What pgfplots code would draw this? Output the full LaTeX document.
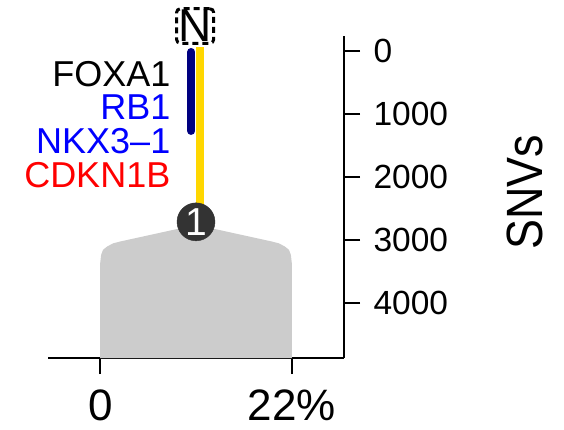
\documentclass[border=0pt]{standalone}
\usepackage{fontspec}
\setmainfont{Liberation Sans}
\usepackage{pgfplots}
\pgfplotsset{compat=1.18}
\definecolor{shapec}{RGB}{204,204,204}
\definecolor{navyc}{RGB}{0,0,128}
\definecolor{goldc}{RGB}{255,215,0}
\definecolor{nodec}{RGB}{51,51,51}
\begin{document}
\begin{tikzpicture}[x=1pt,y=1pt]
\path[use as bounding box] (0,0) rectangle (564,-430);
\begin{axis}[
 at={(48pt,-358pt)}, anchor=south west,
 scale only axis, width=296pt, height=321.5pt,
 xmin=-6, xmax=28, ymin=-230, ymax=4880,
 y dir=reverse,
 axis x line=bottom, axis y line=right,
 axis line style={-, line width=2.7pt, black},
 tick align=outside, major tick length=16pt,
 tick style={line width=2pt, black},
 xtick={0,22}, xticklabels={0,22\%},
 ytick={0,1000,2000,3000,4000},
 yticklabels={0,1000,2000,3000,4000},
 yticklabel style={font=\fontsize{33.5}{40}\selectfont, xshift=10pt},
 xticklabel style={font=\fontsize{44}{48}\selectfont, inner sep=1pt, yshift=-15pt},
 clip=false,
]
\addplot[fill=shapec, draw=none] coordinates {
 (0,4880) (0,3368) (0.1,3241) (0.32,3161) (0.78,3109) (1.47,3058) (2.27,3029)
 (11,2764)
 (19.73,3029) (20.53,3058) (21.22,3109) (21.68,3161) (21.9,3241) (22,3368) (22,4880)
} -- cycle;
\addplot[goldc, line width=8pt] coordinates {(11.43,-64) (11.43,2600)};
\addplot[navyc, line width=8pt, line cap=round] coordinates {(10.46,16) (10.46,1271)};
\addplot[only marks, mark=*, mark size=19pt,
 mark options={fill=nodec, draw=nodec},
 nodes near coords, point meta=explicit symbolic,
 every node near coord/.style={anchor=center, text=white, font=\fontsize{39}{40}\selectfont}]
 coordinates {(11,2716) [1]};
\node[draw=black, line width=3pt, dash pattern=on 6pt off 4pt, rounded corners=4pt,
 inner xsep=2pt, inner ysep=1.5pt, font=\fontsize{46}{46}\selectfont]
 at (axis cs:10.9,-397) {N};
\end{axis}
\begin{scope}[every node/.style={anchor=base east, inner sep=0.5pt, font=\fontsize{36}{40}\selectfont}]
\node[text=black] at (171,-87) {FOXA1};
\node[text={rgb,255:red,0;green,0;blue,255}] at (171,-120) {RB1};
\node[text={rgb,255:red,0;green,0;blue,255}] at (171,-153.5) {NKX3–1};
\node[text={rgb,255:red,255;green,0;blue,0}] at (171,-188) {CDKN1B};
\end{scope}
\node[rotate=90, anchor=center, font=\fontsize{51}{52}\selectfont] at (525,-192) {\scalebox{0.88}[1]{SNVs}};
\end{tikzpicture}
\end{document}
